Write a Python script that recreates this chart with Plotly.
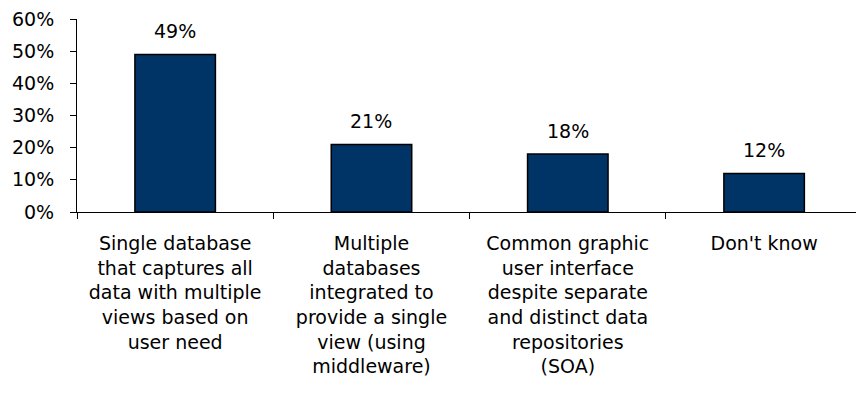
import plotly.graph_objects as go

categories = [
    "Single database<br>that captures all<br>data with multiple<br>views based on<br>user need",
    "Multiple<br>databases<br>integrated to<br>provide a single<br>view (using<br>middleware)",
    "Common graphic<br>user interface<br>despite separate<br>and distinct data<br>repositories<br>(SOA)",
    "Don't know",
]
values = [0.49, 0.21, 0.18, 0.12]
value_labels = ["49%", "21%", "18%", "12%"]
y_ticks = [0, 0.1, 0.2, 0.3, 0.4, 0.5, 0.6]
y_tick_labels = ["0%", "10%", "20%", "30%", "40%", "50%", "60%"]

font = "DejaVu Sans, sans-serif"
fs = 19

fig = go.Figure()
fig.add_trace(go.Bar(
    x=categories, y=values,
    width=0.41,
    marker=dict(color="#003366", line=dict(color="#000000", width=1.5)),
    hoverinfo="skip",
))
for c, v, t in zip(categories, values, value_labels):
    fig.add_annotation(x=c, y=v, text=t, showarrow=False, yanchor="bottom",
                       yshift=10, font=dict(family=font, size=fs, color="#000000"))

fig.update_layout(
    width=856, height=400,
    margin=dict(l=77, r=0, t=19, b=188),
    plot_bgcolor="white", paper_bgcolor="white",
    showlegend=False,
    font=dict(family=font, size=fs, color="#000000"),
    xaxis=dict(
        type="category", range=[-0.5, 3.468],
        showline=True, linecolor="#000000", linewidth=1,
        ticks="outside", tickson="boundaries", ticklen=6, tickcolor="#000000",
        showgrid=False, tickangle=0, ticklabelstandoff=14,
        tickfont=dict(family=font, size=fs, color="#000000"),
    ),
    yaxis=dict(
        range=[0, 0.6], tickvals=y_ticks, ticktext=y_tick_labels,
        showline=True, linecolor="#000000", linewidth=1,
        ticks="outside", ticklen=6, tickcolor="#000000",
        showgrid=False, zeroline=False, ticklabelstandoff=12,
        tickfont=dict(family=font, size=fs, color="#000000"),
    ),
)
fig.write_html("out.html")
